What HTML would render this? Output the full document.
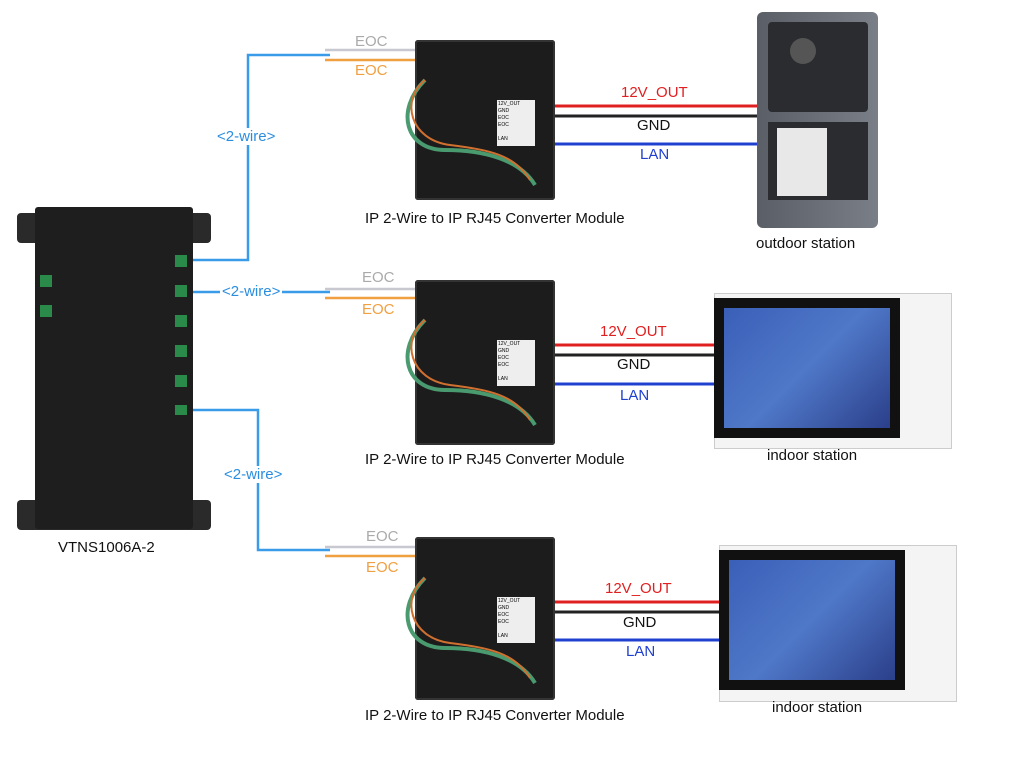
<!DOCTYPE html>
<html><head><meta charset="utf-8"><style>
body{margin:0;width:1024px;height:768px;background:#fff;position:relative;overflow:hidden;font-family:"Liberation Sans",sans-serif}
.a{position:absolute}
.t{position:absolute;font-size:15px;color:#111;white-space:nowrap}
.mod{position:absolute;width:140px;background:#1c1c1c;border-radius:3px;box-shadow:inset 0 0 0 2px #333}
.lbl{position:absolute;background:#eee;width:36px;height:44px;font-size:5px;color:#000;line-height:7px;padding:1px}
.ind{position:absolute;background:#f4f4f4;border:1px solid #ccc}
.scr{position:absolute;background:#111}
.scr div{position:absolute;left:10px;top:10px;right:10px;bottom:10px;background:linear-gradient(135deg,#3a5fb8,#4f78c8 50%,#2b3f8a)}
</style></head><body>
<svg class="a" style="left:0;top:0" width="1024" height="768">
<g fill="none" stroke-width="2.5">
<polyline points="190,260 248,260 248,55 330,55" stroke="#3a9be8"/>
<line x1="192" y1="292" x2="330" y2="292" stroke="#3a9be8"/>
<polyline points="190,410 258,410 258,550 330,550" stroke="#3a9be8"/>
<line x1="325" y1="50" x2="420" y2="50" stroke="#c8c8d0"/><line x1="325" y1="60" x2="420" y2="60" stroke="#f0a040"/>
<line x1="325" y1="289" x2="420" y2="289" stroke="#c8c8d0"/><line x1="325" y1="298" x2="420" y2="298" stroke="#f0a040"/>
<line x1="325" y1="547" x2="420" y2="547" stroke="#c8c8d0"/><line x1="325" y1="556" x2="420" y2="556" stroke="#f0a040"/>
<line x1="555" y1="106" x2="760" y2="106" stroke="#e02020" stroke-width="3"/><line x1="555" y1="116" x2="760" y2="116" stroke="#222" stroke-width="3"/><line x1="555" y1="144" x2="760" y2="144" stroke="#2040d0" stroke-width="3"/>
<line x1="555" y1="345" x2="716" y2="345" stroke="#e02020" stroke-width="3"/><line x1="555" y1="355" x2="716" y2="355" stroke="#222" stroke-width="3"/><line x1="555" y1="384" x2="716" y2="384" stroke="#2040d0" stroke-width="3"/>
<line x1="555" y1="602" x2="720" y2="602" stroke="#e02020" stroke-width="3"/><line x1="555" y1="612" x2="720" y2="612" stroke="#222" stroke-width="3"/><line x1="555" y1="640" x2="720" y2="640" stroke="#2040d0" stroke-width="3"/>
</g></svg>
<!-- switch -->
<div class="a" style="left:17px;top:213px;width:194px;height:30px;background:#2a2a2a;border-radius:4px"></div>
<div class="a" style="left:17px;top:500px;width:194px;height:30px;background:#2a2a2a;border-radius:4px"></div>
<div class="a" style="left:35px;top:207px;width:158px;height:322px;background:#1e1e1e;border-radius:3px"></div>
<div class="a" style="left:175px;top:255px;width:12px;height:160px;background:repeating-linear-gradient(#2a8a4a 0 12px,transparent 12px 30px)"></div>
<div class="a" style="left:40px;top:275px;width:12px;height:45px;background:repeating-linear-gradient(#2a8a4a 0 12px,transparent 12px 30px)"></div>
<div class="t" style="left:58px;top:539px">VTNS1006A-2</div>
<div class="t" style="left:217px;top:128px;color:#2a8ee0;background:#fff">&lt;2-wire&gt;</div>
<div class="t" style="left:220px;top:283px;color:#2a8ee0;background:#fff;padding:0 2px">&lt;2-wire&gt;</div>
<div class="t" style="left:224px;top:466px;color:#2a8ee0;background:#fff">&lt;2-wire&gt;</div>
<div class="t" style="left:355px;top:33px;color:#aaa">EOC</div><div class="t" style="left:355px;top:62px;color:#f0a040">EOC</div>
<div class="t" style="left:362px;top:269px;color:#aaa">EOC</div><div class="t" style="left:362px;top:301px;color:#f0a040">EOC</div>
<div class="t" style="left:366px;top:528px;color:#aaa">EOC</div><div class="t" style="left:366px;top:559px;color:#f0a040">EOC</div>
<div class="mod" style="left:415px;top:40px;height:160px"><div class="lbl" style="left:82px;top:60px">12V_OUT<br>GND<br>EOC<br>EOC<br><br>LAN</div></div>
<div class="mod" style="left:415px;top:280px;height:165px"><div class="lbl" style="left:82px;top:60px">12V_OUT<br>GND<br>EOC<br>EOC<br><br>LAN</div></div>
<div class="mod" style="left:415px;top:537px;height:163px"><div class="lbl" style="left:82px;top:60px">12V_OUT<br>GND<br>EOC<br>EOC<br><br>LAN</div></div>
<svg class="a" style="left:0;top:0" width="1024" height="768"><g fill="none" stroke-width="4">
<path d="M425,80 C395,110 405,150 445,150 C485,150 520,160 535,185" stroke="#4a9a70"/>
<path d="M425,80 C400,100 410,140 450,145 C490,150 515,155 530,180" stroke="#d07030" stroke-width="2"/>
<path d="M425,320 C395,350 405,390 445,390 C485,390 520,400 535,425" stroke="#4a9a70"/>
<path d="M425,320 C400,340 410,380 450,385 C490,390 515,395 530,420" stroke="#d07030" stroke-width="2"/>
<path d="M425,578 C395,608 405,648 445,648 C485,648 520,658 535,683" stroke="#4a9a70"/>
<path d="M425,578 C400,598 410,638 450,643 C490,648 515,653 530,678" stroke="#d07030" stroke-width="2"/>
</g></svg>
<div class="t" style="left:365px;top:210px">IP 2-Wire to IP RJ45 Converter Module</div>
<div class="t" style="left:365px;top:451px">IP 2-Wire to IP RJ45 Converter Module</div>
<div class="t" style="left:365px;top:707px">IP 2-Wire to IP RJ45 Converter Module</div>
<div class="t" style="left:621px;top:84px;color:#e02020">12V_OUT</div><div class="t" style="left:637px;top:117px">GND</div><div class="t" style="left:640px;top:146px;color:#2040d0">LAN</div>
<div class="t" style="left:600px;top:323px;color:#e02020">12V_OUT</div><div class="t" style="left:617px;top:356px">GND</div><div class="t" style="left:620px;top:387px;color:#2040d0">LAN</div>
<div class="t" style="left:605px;top:580px;color:#e02020">12V_OUT</div><div class="t" style="left:623px;top:614px">GND</div><div class="t" style="left:626px;top:643px;color:#2040d0">LAN</div>
<!-- outdoor -->
<div class="a" style="left:757px;top:12px;width:121px;height:216px;background:linear-gradient(90deg,#5a5e66,#7a7e86);border-radius:6px"></div>
<div class="a" style="left:768px;top:22px;width:100px;height:90px;background:#2a2c30;border-radius:4px"></div>
<div class="a" style="left:790px;top:38px;width:26px;height:26px;background:#555;border-radius:50%"></div>
<div class="a" style="left:768px;top:122px;width:100px;height:78px;background:#2a2c30"></div>
<div class="a" style="left:777px;top:128px;width:50px;height:68px;background:#e8e8e8"></div>
<div class="t" style="left:756px;top:235px">outdoor station</div>
<!-- indoor -->
<div class="ind" style="left:714px;top:293px;width:236px;height:154px"></div>
<div class="scr" style="left:714px;top:298px;width:186px;height:140px"><div></div></div>
<div class="t" style="left:767px;top:447px">indoor station</div>
<div class="ind" style="left:719px;top:545px;width:236px;height:155px"></div>
<div class="scr" style="left:719px;top:550px;width:186px;height:140px"><div></div></div>
<div class="t" style="left:772px;top:699px">indoor station</div>
</body></html>
